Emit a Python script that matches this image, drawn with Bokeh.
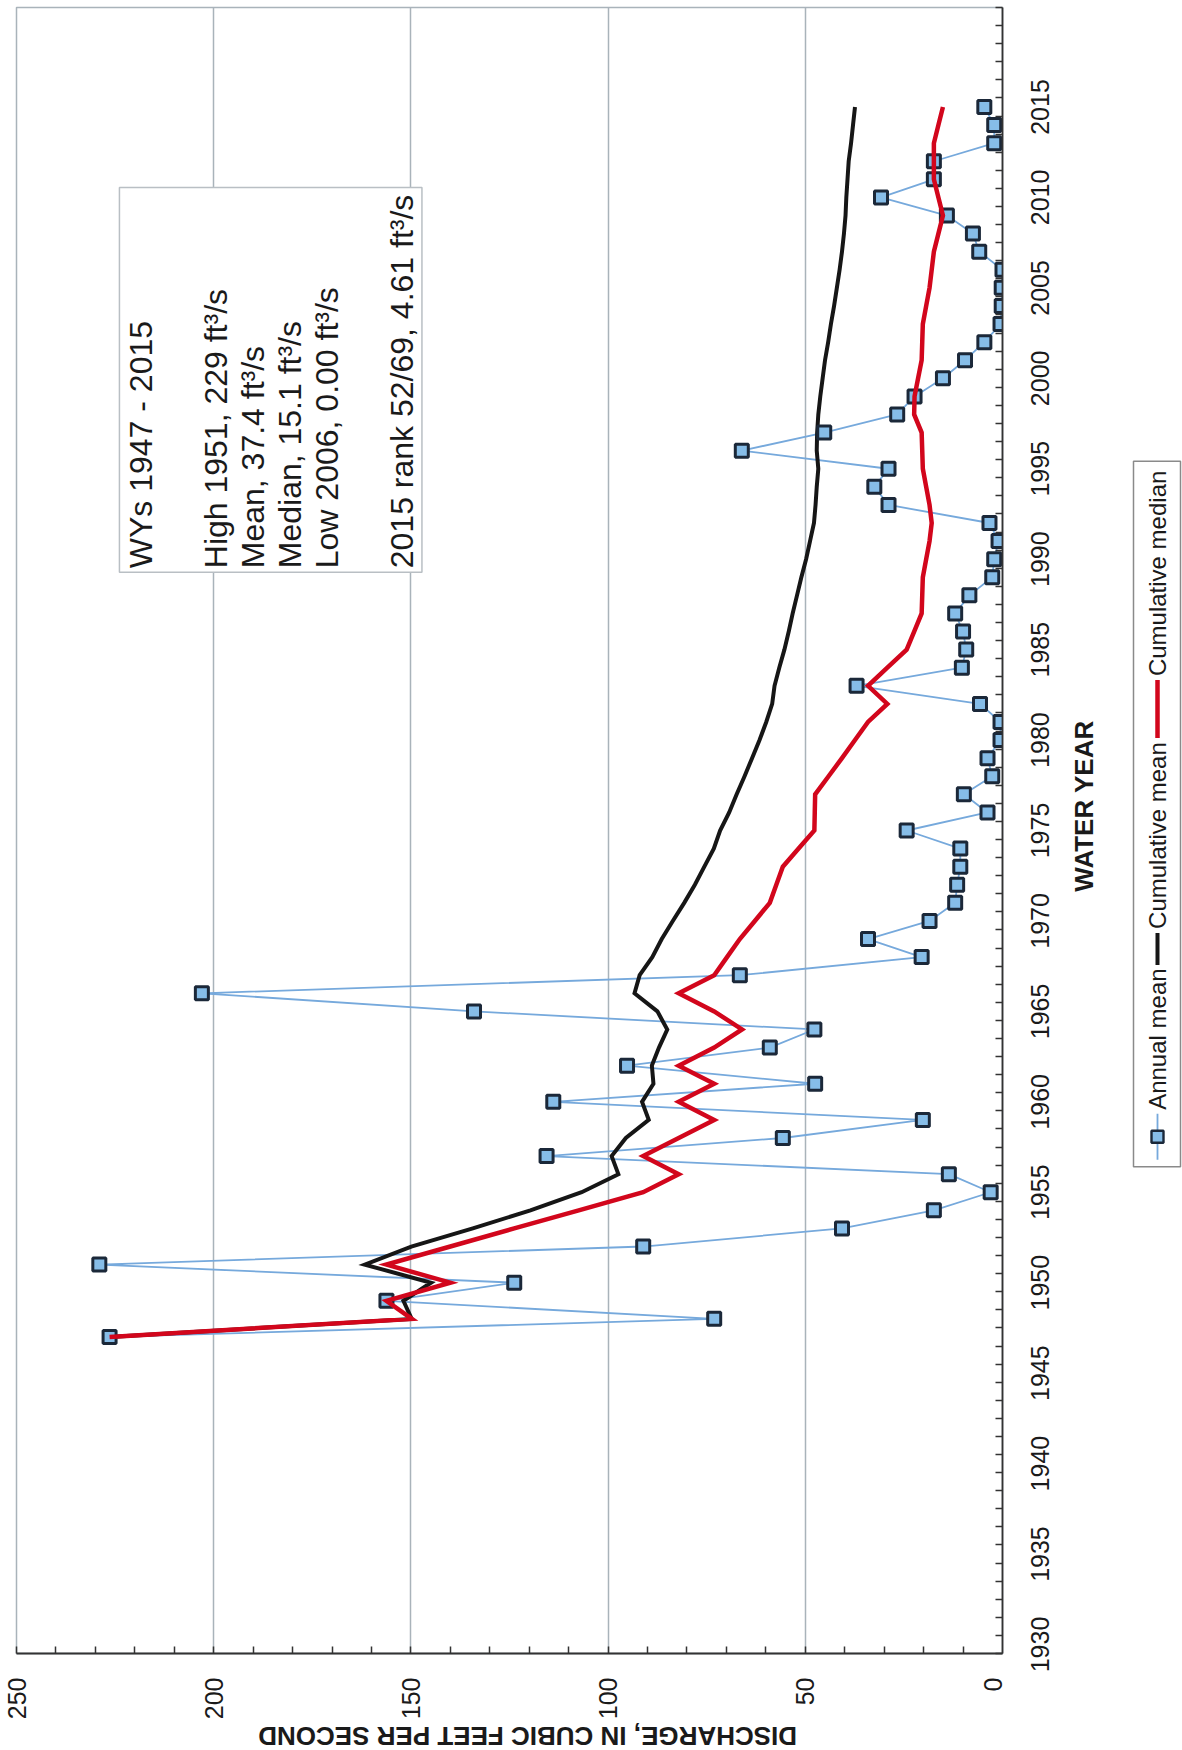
import math
from bokeh.plotting import figure
from bokeh.models import Range1d, FixedTicker, Label, LinearAxis
from bokeh.layouts import gridplot
from bokeh.embed import file_html
from bokeh.resources import INLINE
from bokeh.core.properties import value

# ---------------- data ----------------
years = list(range(1947, 2016))
annual_mean = [226.4, 73.1, 156.2, 123.8, 229.0, 91.1, 40.7, 17.4, 3.0, 13.6,
               115.6, 55.7, 20.2, 113.9, 47.5, 95.2, 59.0, 47.7, 134.0, 203.0,
               66.6, 20.5, 34.1, 18.5, 12.0, 11.5, 10.7, 10.7, 24.3, 3.8,
               9.8, 2.6, 3.8, 0.5, 0.5, 5.7, 37.0, 10.3, 9.2, 10.0,
               12.0, 8.4, 2.6, 2.1, 1.0, 3.3, 28.9, 32.5, 28.9, 66.1,
               45.2, 26.7, 22.3, 15.1, 9.5, 4.6, 0.5, 0.2, 0.2, 0.0,
               5.9, 7.5, 14.1, 30.8, 17.4, 17.4, 2.1, 2.1, 4.61]
cumulative_mean = [226.4, 149.8, 151.9, 144.9, 161.7, 149.9, 134.3, 119.7, 106.7, 97.4,
                   99.1, 95.5, 89.7, 91.4, 88.5, 88.9, 87.1, 85.0, 87.5, 93.3,
                   92.0, 88.8, 86.4, 83.6, 80.7, 78.0, 75.6, 73.2, 71.6, 69.3,
                   67.4, 65.4, 63.5, 61.6, 59.9, 58.4, 57.8, 56.6, 55.3, 54.2,
                   53.2, 52.1, 51.0, 49.8, 48.8, 47.8, 47.4, 47.1, 46.7, 47.1,
                   47.0, 46.7, 46.2, 45.6, 45.0, 44.2, 43.5, 42.7, 42.0, 41.3,
                   40.7, 40.2, 39.8, 39.6, 39.3, 39.0, 38.4, 37.9, 37.4]
cumulative_median = [226.4, 149.75, 156.2, 140.0, 156.2, 140.0, 123.8, 107.45, 91.1, 82.1,
                     91.1, 82.1, 73.1, 82.1, 73.1, 82.1, 73.1, 66.05, 73.1, 82.1,
                     73.1, 69.85, 66.6, 62.8, 59.0, 57.35, 55.7, 51.7, 47.7, 47.6,
                     47.5, 44.1, 40.7, 37.4, 34.1, 29.2, 34.1, 29.2, 24.3, 22.4,
                     20.5, 20.35, 20.2, 19.35, 18.5, 17.95, 18.5, 19.35, 20.2, 20.35,
                     20.5, 22.4, 22.3, 21.4, 20.5, 20.35, 20.2, 19.35, 18.5, 17.95,
                     17.4, 16.25, 15.1, 16.25, 17.4, 17.4, 17.4, 16.25, 15.1]

discharge_ticks = [0, 50, 100, 150, 200, 250]
discharge_minor = [10, 20, 30, 40, 60, 70, 80, 90, 110, 120, 130, 140,
                   160, 170, 180, 190, 210, 220, 230, 240]
year_ticks = [1930, 1935, 1940, 1945, 1950, 1955, 1960, 1965, 1970, 1975,
              1980, 1985, 1990, 1995, 2000, 2005, 2010, 2015]
year_minor = [1929.5 + i for i in range(92)]

stats_lines = ["WYs 1947 - 2015",
               "High 1951, 229 ft\u00b3/s",
               "Mean, 37.4 ft\u00b3/s",
               "Median, 15.1 ft\u00b3/s",
               "Low 2006, 0.00 ft\u00b3/s",
               "2015 rank 52/69, 4.61 ft\u00b3/s"]
legend_labels = ["Annual mean", "Cumulative mean", "Cumulative median"]
x_title = "DISCHARGE, IN CUBIC FEET PER SECOND"
y_title = "WATER YEAR"

FONT = "Liberation Sans"
BLUE_LINE = "#76a9dc"
MARK_FILL = "#86bde8"
MARK_LINE = "#1b2839"
BLACK = "#161616"
RED = "#d2061c"
GRID = "#a9b3ba"
TXT = "#1a1a1a"

# ---------------- main plot (frame: page x 16..1002, y 7..1654) ----------------
p = figure(width=1006, height=1722, title=None,
           x_range=Range1d(250, 0), y_range=Range1d(1929.5, 2020.5),
           y_axis_location="right", output_backend="svg", toolbar_location=None,
           min_border_left=16, min_border_right=4, min_border_top=7,
           min_border_bottom=68)
p.background_fill_color = "white"
p.border_fill_color = "white"
p.outline_line_color = GRID
p.outline_line_width = 1.5

p.xgrid.ticker = FixedTicker(ticks=discharge_ticks)
p.xgrid.grid_line_color = GRID
p.xgrid.grid_line_width = 1.5
p.ygrid.visible = False

# the "0" label sits at the canvas edge: nudge its (invisible) label tick inward
zero_nudge = 2.5
label_ticks = [zero_nudge if t == 0 else t for t in discharge_ticks]
xa = p.xaxis[0]
xa.ticker = FixedTicker(ticks=label_ticks,
                        minor_ticks=discharge_minor + discharge_ticks[1:])
xa.major_label_overrides = {zero_nudge: "0"}
xa.major_tick_in = 0
xa.major_tick_out = 0
xa.major_tick_line_color = None
xa.minor_tick_in = 7
xa.minor_tick_out = 0
xa.minor_tick_line_color = "#333333"
xa.minor_tick_line_width = 1.5
xa.axis_line_color = "#333333"
xa.axis_line_width = 1.8
xa.major_label_orientation = math.pi / 2
xa.major_label_standoff = 24
xa.major_label_text_font = FONT
xa.major_label_text_font_size = "25px"
xa.major_label_text_color = TXT

# year axis line with half-year ticks (labels come from the strip's axis)
ya = p.yaxis[0]
ya.ticker = FixedTicker(ticks=[], minor_ticks=year_minor)
ya.major_tick_in = 0
ya.major_tick_out = 0
ya.minor_tick_in = 7
ya.minor_tick_out = 0
ya.minor_tick_line_color = "#333333"
ya.minor_tick_line_width = 1.5
ya.axis_line_color = "#333333"
ya.axis_line_width = 1.8
ya.major_label_standoff = 0

# statistics box
p.quad(left=[223.9], right=[147.2], bottom=[1989.28], top=[2010.55],
       fill_color="white", line_color="#b9bfc4", line_width=1.5)
stat_x = [218.5, 199.5, 190.1, 180.7, 171.3, 152.3]
for sx, txt in zip(stat_x, stats_lines):
    p.add_layout(Label(x=sx, y=1989.5, text=txt, angle=math.pi / 2,
                       text_align="left", text_baseline="middle",
                       text_font=FONT, text_font_size="32px", text_color=TXT))

# series
p.line(annual_mean, years, line_color=BLUE_LINE, line_width=1.8)
p.line(cumulative_mean, years, line_color=BLACK, line_width=4, line_join="miter")
p.scatter(annual_mean, years, marker="square", size=13, fill_color=MARK_FILL,
          line_color=MARK_LINE, line_width=3)
p.line(cumulative_median, years, line_color=RED, line_width=4.5, line_join="miter")

# ---------------- right strip: year labels, y title, legend ----------------
# frame aligned with the main frame; local x = page x - 1006, local y = 1750 - page y
q = figure(width=176, height=1722, title=None, x_range=Range1d(34, 176),
           y_range=Range1d(96, 1743), output_backend="svg", toolbar_location=None,
           x_axis_location=None, y_axis_location=None,
           min_border=0, min_border_left=34)
q.extra_y_ranges = {"yr": p.y_range}
q.grid.visible = False
q.outline_line_color = None
q.background_fill_color = "white"
q.border_fill_color = "white"

# rotated labels on a left axis end at their tick: shift ticks by half a label
label_shift = 1.536
yl = LinearAxis(y_range_name="yr",
                ticker=FixedTicker(ticks=[t + label_shift for t in year_ticks]),
                major_label_overrides={t + label_shift: str(t) for t in year_ticks},
                major_label_orientation=math.pi / 2, major_label_standoff=0,
                axis_line_color=None, major_tick_line_color=None,
                minor_tick_line_color=None, major_tick_in=0, major_tick_out=0,
                minor_tick_in=0, minor_tick_out=0,
                major_label_text_font=FONT, major_label_text_font_size="25px",
                major_label_text_color=TXT)
q.add_layout(yl, "left")

q.text(x=[77], y=[944], text=[y_title], angle=math.pi / 2,
       text_align="center", text_baseline="middle", text_font=value(FONT),
       text_font_size="26px", text_font_style="bold", text_color=TXT)

q.quad(left=[127], right=[174], bottom=[583], top=[1289], fill_color="white",
       line_color="#8a8a8a", line_width=1.5)
cx = 151
q.line([cx, cx], [590, 636], line_color=BLUE_LINE, line_width=1.8)
q.scatter([cx], [613], marker="square", size=12, fill_color=MARK_FILL,
          line_color=MARK_LINE, line_width=2.4)
q.line([cx, cx], [785, 817], line_color=BLACK, line_width=4)
q.line([cx, cx], [1012, 1070], line_color=RED, line_width=4.5)
q.text(x=[cx, cx, cx], y=[640, 821, 1074], text=legend_labels, angle=math.pi / 2,
       text_align="left", text_baseline="middle", text_font=value(FONT),
       text_font_size="24px", text_color=TXT)

# ---------------- bottom strip: discharge title (upside down) ----------------
r = figure(width=1006, height=28, title=None, x_range=p.x_range,
           y_range=Range1d(0, 28), output_backend="svg", toolbar_location=None,
           min_border=0)
r.axis.visible = False
r.grid.visible = False
r.outline_line_color = None
r.background_fill_color = "white"
r.border_fill_color = "white"
r.text(x=[120.4], y=[15], text=[x_title], angle=math.pi,
       text_align="center", text_baseline="middle", text_font=value(FONT),
       text_font_size="26px", text_font_style="bold", text_color=TXT)

layout = gridplot([[p, q], [r, None]], toolbar_location=None)
open("out.html", "w").write(file_html(layout, INLINE))
